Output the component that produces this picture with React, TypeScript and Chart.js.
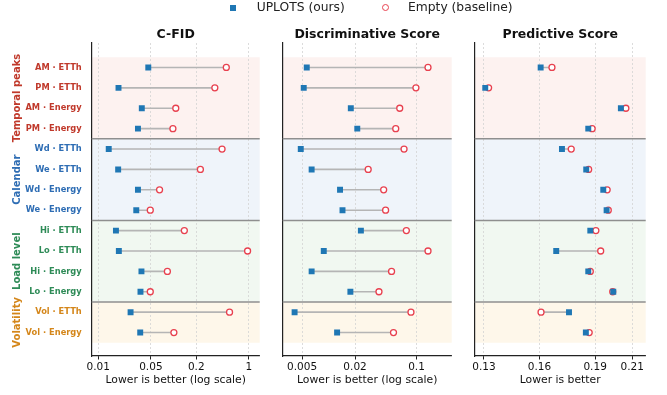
import React, { useEffect, useRef } from "react";
import { Chart, registerables } from "chart.js";
Chart.register(...registerables);

const FONT = '"DejaVu Sans"';

const rowLabels = [
  "AM · ETTh", "PM · ETTh", "AM · Energy", "PM · Energy",
  "Wd · ETTh", "We · ETTh", "Wd · Energy", "We · Energy",
  "Hi · ETTh", "Lo · ETTh", "Hi · Energy", "Lo · Energy",
  "Vol · ETTh", "Vol · Energy",
];
const rowGroups = [0, 0, 0, 0, 1, 1, 1, 1, 2, 2, 2, 2, 3, 3];
const groupNames = ["Temporal peaks", "Calendar", "Load level", "Volatility"];
const groupColors = ["#c0392b", "#2e6db4", "#2e8b57", "#d4861a"];
const groupBg = ["#fdf2f0", "#eff4fa", "#f1f8f1", "#fef7ea"];

const cfidOurs = [0.0462, 0.0186, 0.0379, 0.0337, 0.0138, 0.0184, 0.0337, 0.032, 0.0172, 0.0188, 0.0375, 0.0364, 0.0269, 0.0361];
const cfidEmpty = [0.501, 0.353, 0.107, 0.098, 0.44, 0.227, 0.0652, 0.0491, 0.139, 0.96, 0.0828, 0.0491, 0.553, 0.101];
const cfidTicks = [0.01, 0.05, 0.2, 1];
const cfidTickLabels = ["0.01", "0.05", "0.2", "1"];

const discOurs = [0.00565, 0.00522, 0.0179, 0.0212, 0.00483, 0.00642, 0.0135, 0.0144, 0.0233, 0.00882, 0.00642, 0.0177, 0.00411, 0.0125];
const discEmpty = [0.135, 0.0984, 0.0644, 0.058, 0.0721, 0.0282, 0.0423, 0.0445, 0.0766, 0.135, 0.052, 0.0374, 0.0864, 0.0547];
const discTicks = [0.005, 0.02, 0.1];
const discTickLabels = ["0.005", "0.02", "0.1"];

const predOurs = [0.1606, 0.1307, 0.2039, 0.1863, 0.1721, 0.1852, 0.1944, 0.1962, 0.1874, 0.169, 0.1863, 0.1998, 0.1759, 0.185];
const predEmpty = [0.1667, 0.1325, 0.2066, 0.1884, 0.1771, 0.1865, 0.1965, 0.1971, 0.1904, 0.193, 0.1874, 0.1995, 0.1608, 0.1868];
const predTicks = [0.13, 0.16, 0.19, 0.21];
const predTickLabels = ["0.13", "0.16", "0.19", "0.21"];

const OURS_COLOR = "#1f77b4";
const EMPTY_COLOR = "#e8414f";

type PanelSpec = {
  title: string;
  axisTitle: string;
  type: "logarithmic" | "linear";
  min: number;
  max: number;
  ours: number[];
  empty: number[];
  ticks: number[];
  tickLabels: string[];
  showLabels: boolean;
  left: number;
  width: number;
  yWidth: number;
  padRight: number;
};

const groupRanges = groupNames.map((_, g) => {
  const idx = rowGroups.map((gg, i) => (gg === g ? i : -1)).filter((i) => i >= 0);
  return [idx[0], idx[idx.length - 1]];
});

function Panel({ spec }: { spec: PanelSpec }) {
  const ref = useRef<HTMLCanvasElement | null>(null);
  useEffect(() => {
    if (!ref.current) return;
    const bands = {
      id: "bands",
      beforeDraw(chart: any) {
        const { ctx, chartArea: a, scales } = chart;
        const y = scales.y;
        ctx.save();
        groupRanges.forEach(([s, e], g) => {
          const y0 = y.getPixelForValue(s - 0.5);
          const y1 = y.getPixelForValue(e + 0.5);
          ctx.fillStyle = groupBg[g];
          ctx.fillRect(a.left, y0, a.right - a.left, y1 - y0);
        });
        ctx.restore();
      },
      beforeDatasetsDraw(chart: any) {
        const { ctx, chartArea: a, scales } = chart;
        const y = scales.y;
        ctx.save();
        ctx.strokeStyle = "#8f8f8f";
        ctx.lineWidth = 1.5;
        groupRanges.slice(0, -1).forEach(([, e]) => {
          const py = y.getPixelForValue(e + 0.5);
          ctx.beginPath();
          ctx.moveTo(a.left, py);
          ctx.lineTo(a.right, py);
          ctx.stroke();
        });
        ctx.restore();
      },
      afterDraw(chart: any) {
        const { ctx, chartArea: a, scales } = chart;
        ctx.save();
        ctx.fillStyle = "#111";
        ctx.font = `bold 12.5px ${FONT}`;
        ctx.textAlign = "center";
        ctx.textBaseline = "middle";
        ctx.fillText(spec.title, (a.left + a.right) / 2, 34.5);
        if (spec.showLabels) {
          const y = scales.y;
          ctx.font = `bold 10px ${FONT}`;
          groupRanges.forEach(([s, e], g) => {
            const cy = (y.getPixelForValue(s - 0.5) + y.getPixelForValue(e + 0.5)) / 2;
            ctx.save();
            ctx.translate(17, cy);
            ctx.rotate(-Math.PI / 2);
            ctx.fillStyle = groupColors[g];
            ctx.fillText(groupNames[g], 0, 0);
            ctx.restore();
          });
        }
        ctx.restore();
      },
    };

    const connectors = spec.ours.map((v, i) => ({
      data: [
        { x: v, y: i },
        { x: spec.empty[i], y: i },
      ],
      showLine: true,
      borderColor: "#b5b5b5",
      borderWidth: 1.6,
      pointRadius: 0,
      order: 3,
    }));

    const chart = new Chart(ref.current, {
      type: "scatter",
      data: {
        datasets: [
          {
            data: spec.ours.map((v, i) => ({ x: v, y: i })),
            pointStyle: "rect",
            pointRadius: 4.2,
            backgroundColor: OURS_COLOR,
            borderColor: OURS_COLOR,
            pointBackgroundColor: OURS_COLOR,
            pointBorderColor: OURS_COLOR,
            pointBorderWidth: 0,
            order: 1,
          },
          {
            data: spec.empty.map((v, i) => ({ x: v, y: i })),
            pointStyle: "circle",
            pointRadius: 3,
            backgroundColor: "#fff",
            borderColor: EMPTY_COLOR,
            pointBackgroundColor: "#fff",
            pointBorderColor: EMPTY_COLOR,
            pointBorderWidth: 1.3,
            order: 2,
          },
          ...connectors,
        ] as any,
      },
      options: {
        responsive: false,
        animation: false,
        devicePixelRatio: 1,
        layout: { padding: { top: 43, right: spec.padRight, bottom: 0, left: 0 } },
        plugins: { legend: { display: false }, tooltip: { enabled: false }, title: { display: false } },
        scales: {
          x: {
            type: spec.type,
            min: spec.min,
            max: spec.max,
            afterBuildTicks: (s: any) => {
              s.ticks = spec.ticks.map((v) => ({ value: v }));
            },
            afterFit: (s: any) => {
              s.height = 39;
            },
            ticks: {
              callback: (_v: any, i: number) => spec.tickLabels[i],
              font: { family: FONT, size: 10.5 },
              color: "#111",
              padding: 1,
              maxRotation: 0,
              autoSkip: false,
            },
            grid: {
              color: "#d4d4d4",
              lineWidth: 0.8,
              drawTicks: true,
              tickLength: 3.5,
              tickColor: "#222",
              tickWidth: 1,
              tickBorderDash: [],
            },
            border: { display: true, color: "#222", width: 1.2, dash: [2, 2] },
            title: {
              display: true,
              text: spec.axisTitle,
              font: { family: FONT, size: 10.8 },
              color: "#111",
              padding: { top: 0, bottom: 8.5 },
            },
          },
          y: {
            type: "linear",
            reverse: true,
            min: -1.2,
            max: 14.15,
            afterBuildTicks: (s: any) => {
              s.ticks = rowLabels.map((_, i) => ({ value: i }));
            },
            afterFit: (s: any) => {
              s.width = spec.yWidth;
            },
            ticks: {
              display: spec.showLabels,
              autoSkip: false,
              callback: (v: any) => rowLabels[v as number],
              color: (c: any) => groupColors[rowGroups[c.index] ?? 0],
              font: { family: FONT, size: 8.3, weight: "bold" },
              padding: 10,
            },
            grid: { display: false, drawTicks: false },
            border: { display: true, color: "#222", width: 1.2 },
          },
        },
      } as any,
      plugins: [bands],
    });
    return () => chart.destroy();
  }, [spec]);
  return (
    <canvas
      ref={ref}
      width={spec.width}
      height={395}
      style={{ position: "absolute", left: spec.left, top: 0, width: spec.width, height: 395 }}
    />
  );
}

const panels: PanelSpec[] = [
  {
    title: "C-FID", axisTitle: "Lower is better (log scale)", type: "logarithmic",
    min: 0.0082, max: 1.39, ours: cfidOurs, empty: cfidEmpty, ticks: cfidTicks, tickLabels: cfidTickLabels,
    showLabels: true, left: 0, width: 265, yWidth: 91.7, padRight: 2.3,
  },
  {
    title: "Discriminative Score", axisTitle: "Lower is better (log scale)", type: "logarithmic",
    min: 0.00301, max: 0.251, ours: discOurs, empty: discEmpty, ticks: discTicks, tickLabels: discTickLabels,
    showLabels: false, left: 265, width: 192, yWidth: 17.7, padRight: 3,
  },
  {
    title: "Predictive Score", axisTitle: "Lower is better", type: "linear",
    min: 0.125, max: 0.2173, ours: predOurs, empty: predEmpty, ticks: predTicks, tickLabels: predTickLabels,
    showLabels: false, left: 457, width: 210, yWidth: 17.7, padRight: 21.3,
  },
];

export default function App() {
  return (
    <div style={{ position: "fixed", left: 0, top: 0, width: 667, height: 395, background: "#fff", overflow: "hidden" }}>
      {panels.map((p) => (
        <Panel key={p.title} spec={p} />
      ))}
      <div style={{ position: "absolute", left: 230, top: 4.5, width: 6, height: 6, background: OURS_COLOR }} />
      <div style={{ position: "absolute", left: 256.7, top: 0, font: `12.3px ${FONT}`, lineHeight: "15px", color: "#222", whiteSpace: "nowrap" }}>
        UPLOTS (ours)
      </div>
      <div
        style={{
          position: "absolute", left: 382.2, top: 4, width: 7, height: 7, borderRadius: "50%",
          border: `1.3px solid ${EMPTY_COLOR}`, background: "#fff", boxSizing: "border-box",
        }}
      />
      <div style={{ position: "absolute", left: 408, top: 0, font: `12.3px ${FONT}`, lineHeight: "15px", color: "#222", whiteSpace: "nowrap" }}>
        Empty (baseline)
      </div>
    </div>
  );
}
